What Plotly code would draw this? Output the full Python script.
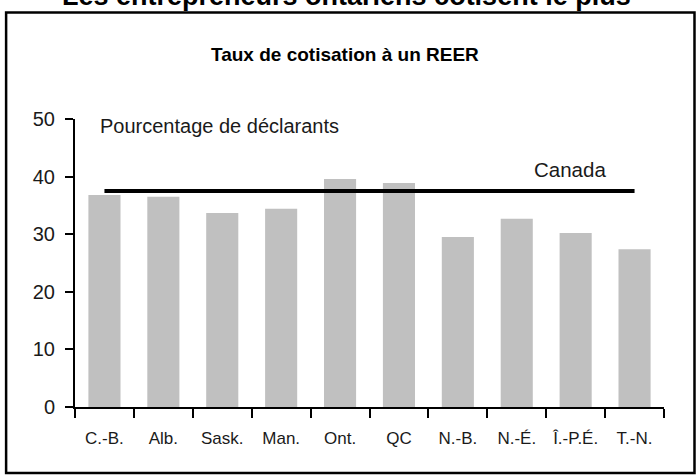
import plotly.graph_objects as go

provinces = ["C.-B.", "Alb.", "Sask.", "Man.", "Ont.", "QC", "N.-B.", "N.-É.", "Î.-P.É.", "T.-N."]
taux = [36.8, 36.5, 33.7, 34.4, 39.6, 38.9, 29.5, 32.7, 30.2, 27.4]
canada = 37.5
y_ticks = [0, 10, 20, 30, 40, 50]

W, H = 697, 475
L, R = 75.4, 664.5      # plot area pixel x range
T, B = 119.3, 406.7     # plot area pixel y range (50 -> T, 0 -> B)

def px(x):
    return (x - L) / (R - L)

def py(y):
    return (B - y) / (B - T)

FONT = "Liberation Sans, Arial, sans-serif"

fig = go.Figure()
fig.add_trace(go.Bar(x=provinces, y=taux, marker=dict(color="#c0c0c0", line=dict(width=0)),
                     hoverinfo="x+y"))
fig.add_trace(go.Scatter(x=[provinces[0], provinces[-1]], y=[canada, canada], mode="lines",
                         line=dict(color="black", width=4), hoverinfo="y"))

fig.update_layout(
    width=W, height=H,
    margin=dict(l=L, r=W - R, t=T, b=H - B, pad=0),
    paper_bgcolor="white", plot_bgcolor="white",
    showlegend=False,
    bargap=0.455,
    font=dict(family=FONT, color="#1a1a1a"),
    xaxis=dict(
        type="category", showgrid=False, showline=True, linecolor="black", linewidth=2,
        ticks="outside", tickson="boundaries", ticklen=9, tickwidth=2, tickcolor="black",
        tickfont=dict(size=17, family=FONT, color="#1a1a1a"), zeroline=False,
        ticklabelstandoff=15,
    ),
    yaxis=dict(
        range=[0, 50], tickvals=y_ticks, showgrid=False, showline=True, linecolor="black",
        linewidth=2, ticks="outside", ticklen=8, tickwidth=2, tickcolor="black",
        tickfont=dict(size=20, family=FONT, color="#1a1a1a"), zeroline=False,
        ticklabelstandoff=6,
    ),
    shapes=[dict(type="rect", xref="paper", yref="paper",
                 x0=px(6.5), x1=px(695), y0=py(472.5), y1=py(13),
                 line=dict(color="black", width=2.5), fillcolor="rgba(0,0,0,0)")],
    annotations=[
        dict(text="<b>Les entrepreneurs ontariens cotisent le plus</b>", xref="paper", yref="paper",
             x=px(347), y=py(-3), xanchor="center", yanchor="middle", showarrow=False,
             font=dict(size=27, family=FONT, color="black")),
        dict(text="<b>Taux de cotisation à un REER</b>", xref="paper", yref="paper",
             x=px(345), y=py(55), xanchor="center", yanchor="middle", showarrow=False,
             font=dict(size=19, family=FONT, color="black")),
        dict(text="Pourcentage de déclarants", xref="paper", yref="paper",
             x=px(98), y=py(126), xanchor="left", yanchor="middle", showarrow=False,
             font=dict(size=20, family=FONT, color="#1a1a1a")),
        dict(text="Canada", xref="paper", yref="paper",
             x=px(532), y=py(170), xanchor="left", yanchor="middle", showarrow=False,
             font=dict(size=20.5, family=FONT, color="#1a1a1a")),
    ],
)

fig.write_html("out.html", config={"displayModeBar": False},
               post_script="document.body.style.margin='0';document.body.style.overflow='hidden';")
